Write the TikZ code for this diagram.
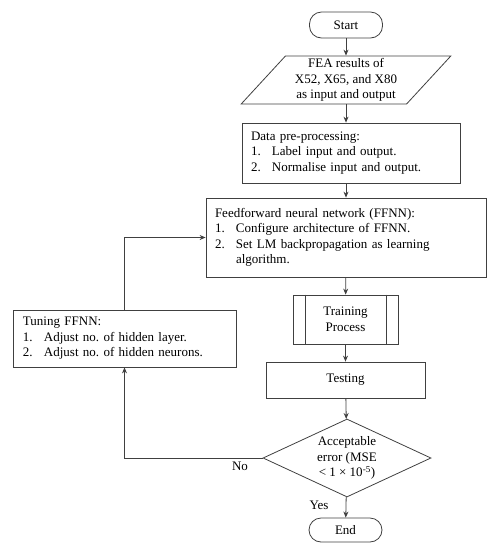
\documentclass[tikz,border=0pt]{standalone}
\usepackage{fontspec}
\setmainfont{Liberation Serif}
\usetikzlibrary{shapes.geometric,arrows.meta}
\newcommand{\itm}[2]{\makebox[21pt][l]{#1}#2}
\frenchspacing

\begin{document}
\begin{tikzpicture}[x=1pt,y=-1pt,
    box/.style={draw=black!75, line width=0.8pt, font=\fontsize{13}{15.5}\selectfont, inner sep=0pt},
    listbox/.style={box, align=left, inner xsep=9pt, inner ysep=4pt},
    term/.style={box, rounded corners=12pt, minimum width=73pt},
    arr/.style={draw=black!75, line width=0.8pt, -{Stealth[length=6pt,width=5pt]}},
    lbl/.style={font=\fontsize{13}{15}\selectfont, inner sep=1pt}]
    \useasboundingbox (0,0) rectangle (495,550);
    % main column:
    \node[term, minimum height=26pt] (startn) at (346,25) {Start}; % Anfang
    \node[box, shape=trapezium, trapezium left angle=49, trapezium right angle=131,
          trapezium stretches=true, minimum width=210pt, minimum height=48pt,
          align=center] (fea) at (346,80) {FEA results of\\X52, X65, and X80\\as input and output};
    \node[listbox, text width=200pt, minimum height=60pt] (prep) at (351,153)
        {Data pre-processing:\\\itm{1.}{Label input and output.}\\\itm{2.}{Normalise input and output.}};
    \node[listbox, text width=262pt, minimum height=79pt] (ffnn) at (346,237.5)
        {Feedforward neural network (FFNN):\\\itm{1.}{Configure architecture of FFNN.}\\\itm{2.}{Set LM backpropagation as learning}\\\hspace*{21pt}algorithm.};
    \node[box, minimum width=105pt, minimum height=49pt, align=center] (train) at (345.5,319.5) {Training\\Process};
    \draw[black!75, line width=0.8pt] ([xshift=13pt]train.north west) -- ([xshift=13pt]train.south west); % linker Strich
    \draw[black!75, line width=0.8pt] ([xshift=-12pt]train.north east) -- ([xshift=-12pt]train.south east); % rechter Strich
    \node[box, minimum width=159pt, minimum height=36pt] (test) at (345.5,380) {Testing};
    \node[box, shape=diamond, minimum width=168pt, minimum height=78pt, aspect=2.15,
          align=center] (check) at (347,458) {Acceptable\\error (MSE\\< 1 × 10\textsuperscript{-5})};
    \node[term, minimum height=24pt] (endn) at (345.5,530) {End}; % Ende
    % loop box:
    \node[listbox, text width=203pt, inner xsep=10pt, minimum height=57pt] (tune) at (124.5,338.5)
        {Tuning FFNN:\\\itm{1.}{Adjust no. of hidden layer.}\\\itm{2.}{Adjust no. of hidden neurons.}};
    % arrows:
    \draw[arr] (startn) -- (fea);
    \draw[arr] (fea.south) -- (fea.south |- prep.north);
    \draw[arr] (prep.south -| ffnn.north) -- (ffnn.north);
    \draw[arr] (ffnn) -- (train);
    \draw[arr] (train) -- (test);
    \draw[arr] (test) -- (check);
    \draw[arr] (check) -- (endn);
    \draw[arr] (check.west) -| (tune.south);
    \draw[arr] (tune.north) |- (ffnn.west);
    % labels:
    \node[lbl] (nolbl) at (240,466) {No};
    \node[lbl] (yeslbl) at (319,505) {Yes};
\end{tikzpicture}
\end{document}
